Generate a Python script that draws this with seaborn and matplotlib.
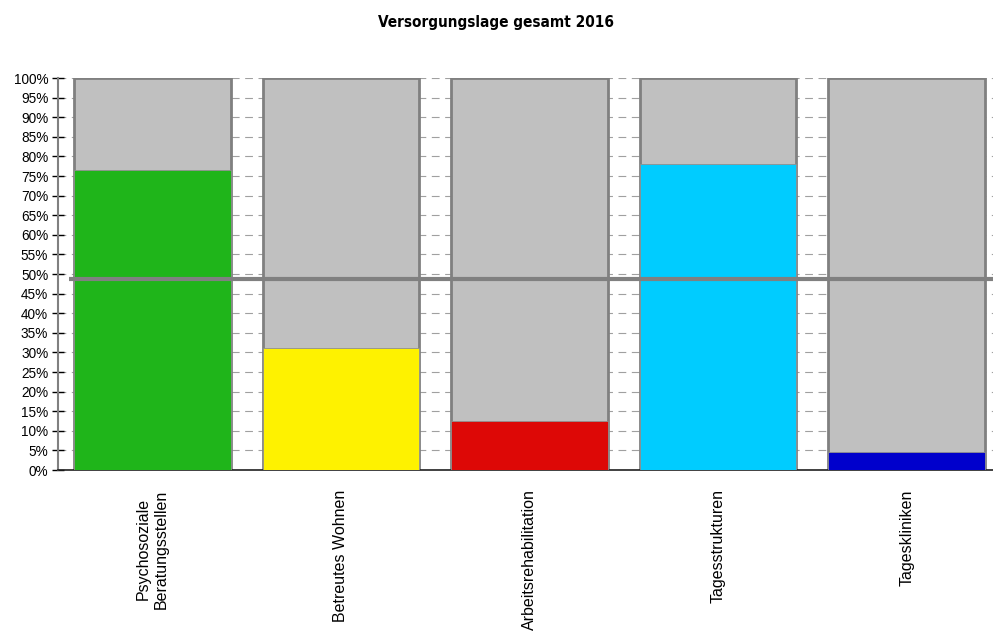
import matplotlib
matplotlib.use("Agg")
import matplotlib.pyplot as plt
from matplotlib.ticker import PercentFormatter
import seaborn as sns

categories = ["Psychosoziale\nBeratungsstellen", "Betreutes Wohnen",
              "Arbeitsrehabilitation", "Tagesstrukturen", "Tageskliniken"]
values = [76.5, 31.1, 12.5, 78.1, 4.7]
totals = [100, 100, 100, 100, 100]
bar_colors = ["#1FB51A", "#FEF200", "#DD0806", "#00CCFF", "#0000CC"]
reference_level = 48.7
title = "Versorgungslage gesamt 2016"

sns.set_style("white")
plt.rcParams['font.family'] = ['Liberation Sans', 'DejaVu Sans']
plt.rcParams['text.color'] = 'black'
plt.rcParams['xtick.color'] = 'black'
plt.rcParams['ytick.color'] = 'black'

fig = plt.figure(figsize=(9.93, 6.37), dpi=100)
ax = fig.add_axes([58 / 993, 167 / 637, 943 / 993, 392 / 637])

sns.barplot(x=categories, y=totals, color="#C0C0C0", saturation=1,
            edgecolor="#808080", linewidth=2, width=0.83, ax=ax, zorder=2)
sns.barplot(x=categories, y=values, hue=categories, palette=bar_colors,
            saturation=1, legend=False, edgecolor="#909090", linewidth=0.6,
            width=0.83, ax=ax, zorder=3)

ax.hlines(reference_level, -0.44, 4.6, color="#808080", linewidth=3, zorder=4)

ax.set_ylim(0, 100)
ax.set_xlim(-0.5, 4.5)
ax.set_yticks(range(0, 101, 5))
ax.yaxis.set_major_formatter(PercentFormatter(decimals=0))
ax.yaxis.grid(True, linestyle=(0, (7, 5)), color="#A0A0A0", linewidth=0.8)
ax.set_axisbelow(True)

ax.set_xticks([0.5, 1.5, 2.5, 3.5], minor=True)
ax.tick_params(axis="x", which="major", length=0, pad=14, labelsize=11.5,
               labelrotation=90)
ax.tick_params(axis="x", which="minor", length=7, direction="out",
               color="black", width=1)
ax.tick_params(axis="y", length=8, direction="inout", color="black",
               width=1, labelsize=9.8, pad=3, left=True)
for lbl in ax.get_xticklabels():
    lbl.set_va("top")
    lbl.set_ha("center")
    lbl.set_multialignment("center")

for side in ["top", "right"]:
    ax.spines[side].set_visible(False)
ax.spines["left"].set_color("#808080")
ax.spines["left"].set_linewidth(1.5)
ax.spines["bottom"].set_color("#202020")
ax.spines["bottom"].set_linewidth(1.2)
ax.set_xlabel("")
ax.set_ylabel("")

fig.text(0.5, 1 - 22 / 637, title, ha="center", va="center", fontsize=11,
         fontweight="bold", fontstretch="condensed",
         family=["DejaVu Sans"])

fig.savefig("out.png", dpi=100)
